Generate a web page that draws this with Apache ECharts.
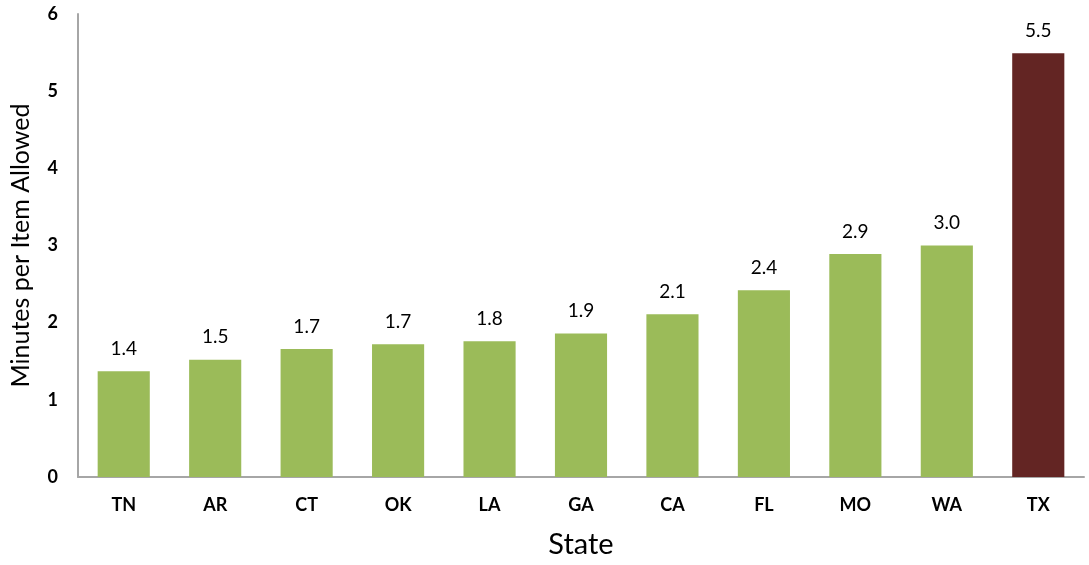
<!DOCTYPE html>
<html>
<head>
<meta charset="utf-8">
<script src="https://cdn.jsdelivr.net/npm/echarts@6/dist/echarts.min.js"></script>
<style>
  html, body { margin: 0; padding: 0; background: #fff; }
  #chart { width: 1089px; height: 565px; }
</style>
</head>
<body>
<div id="chart"></div>
<script>
// Minutes per item allowed, by state
const states = ['TN', 'AR', 'CT', 'OK', 'LA', 'GA', 'CA', 'FL', 'MO', 'WA', 'TX'];
const minutesPerItem = [1.37, 1.52, 1.66, 1.72, 1.76, 1.86, 2.11, 2.42, 2.89, 3.0, 5.49];
const highlightState = 'TX';
const yTicks = [0, 1, 2, 3, 4, 5, 6];

const GREEN = '#9BBB59';
const MAROON = '#632523';
const AXIS_GRAY = '#A6A6A6';
const FONT = 'Lato, "Open Sans", sans-serif';

const chart = echarts.init(document.getElementById('chart'));
chart.setOption({
  animation: false,
  grid: { left: 73, right: 5, top: 14, bottom: 88, containLabel: false },
  xAxis: {
    type: 'category',
    data: states,
    name: 'State',
    nameLocation: 'middle',
    nameGap: 53,
    nameTextStyle: { fontFamily: FONT, fontSize: 29, color: '#000' },
    axisLine: { lineStyle: { color: AXIS_GRAY, width: 2 } },
    axisTick: { show: false },
    axisLabel: { fontFamily: FONT, fontWeight: 'bold', fontSize: 18, color: '#000', margin: 19 }
  },
  yAxis: {
    type: 'value',
    min: yTicks[0],
    max: yTicks[yTicks.length - 1],
    interval: 1,
    name: 'Minutes per Item Allowed',
    nameLocation: 'middle',
    nameGap: 45,
    nameTextStyle: { fontFamily: FONT, fontSize: 25, color: '#000' },
    axisLine: { show: true, lineStyle: { color: AXIS_GRAY, width: 2 } },
    axisTick: { show: false },
    splitLine: { show: false },
    axisLabel: { fontFamily: FONT, fontWeight: 'bold', fontSize: 18, color: '#000', margin: 20 }
  },
  series: [{
    type: 'bar',
    barWidth: '57%',
    data: minutesPerItem.map((v, i) => ({
      value: v,
      itemStyle: { color: states[i] === highlightState ? MAROON : GREEN }
    })),
    label: {
      show: true,
      position: 'top',
      distance: 13,
      fontFamily: FONT,
      fontSize: 19,
      color: '#000',
      formatter: p => p.value.toFixed(1)
    }
  }]
});
</script>
</body>
</html>
